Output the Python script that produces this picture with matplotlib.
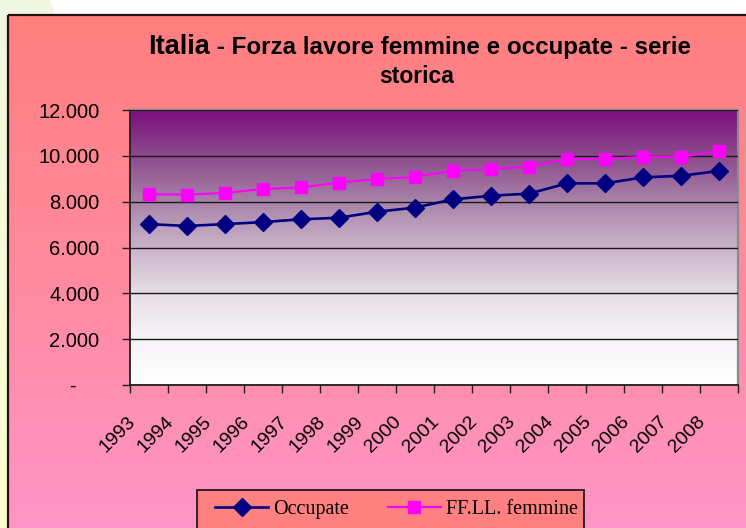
import numpy as np
import matplotlib
matplotlib.use("Agg")
import matplotlib.pyplot as plt
from matplotlib.colors import LinearSegmentedColormap
from matplotlib.patches import Rectangle, Polygon
from matplotlib.transforms import ScaledTranslation
from matplotlib.lines import Line2D

# ---- data ----
years = ["1993", "1994", "1995", "1996", "1997", "1998", "1999", "2000",
         "2001", "2002", "2003", "2004", "2005", "2006", "2007", "2008"]
occupate = [7020, 6940, 7020, 7110, 7230, 7300, 7560, 7740,
            8100, 8260, 8350, 8800, 8800, 9060, 9130, 9340]
ffll_femmine = [8320, 8310, 8380, 8550, 8620, 8830, 8990, 9080,
                9350, 9420, 9530, 9860, 9860, 9950, 9950, 10210]
yticks = [0, 2000, 4000, 6000, 8000, 10000, 12000]
title_a = "Italia"
title_b = " - Forza lavore femmine e occupate - serie"
title_c = "storica"
series_names = ["Occupate", "FF.LL. femmine"]

W, H = 746, 528
DPI = 100
fig = plt.figure(figsize=(W / DPI, H / DPI), dpi=DPI)
fig.patch.set_facecolor("white")

# ---- background axes (pixel coords, y downward) ----
bg = fig.add_axes([0, 0, 1, 1], zorder=-10)
bg.set_xlim(0, W)
bg.set_ylim(H, 0)
bg.axis("off")
left_cmap = LinearSegmentedColormap.from_list("l", ["#EEF7E0", "#FBFCD8", "#FFFFD0"])
bg.imshow(np.linspace(0, 1, 256).reshape(-1, 1), cmap=left_cmap, aspect="auto",
          extent=(0, 9, H, 0), zorder=0)
bg.add_patch(Polygon([(0, 0), (50, 0), (56, 16), (0, 16)], closed=True,
                     facecolor="#EFF7E2", edgecolor="none", zorder=0))
frame_cmap = LinearSegmentedColormap.from_list("f", ["#FF7F7F", "#FF8A9E", "#FF95C8"])
bg.imshow(np.linspace(0, 1, 256).reshape(-1, 1), cmap=frame_cmap, aspect="auto",
          extent=(8, W, H, 15), zorder=1)
bg.add_patch(Rectangle((8, 15), W, H, facecolor="none", edgecolor="#201010",
                       linewidth=1.6, zorder=2))
# legend box
bg.add_patch(Rectangle((197, 490), 584 - 197, 60, facecolor="#FF8080",
                       edgecolor="#101010", linewidth=1.2, zorder=3))

# ---- plot area ----
L, T, R, B = 130, 110, 738, 385
ax = fig.add_axes([L / W, 1 - B / H, (R - L) / W, (B - T) / H])
ax.set_facecolor("none")
plot_cmap = LinearSegmentedColormap.from_list(
    "p", [(0.0, "#FFFFFF"), (0.17, "#F6F3F6"), (0.33, "#E7DEE7"),
          (0.5, "#CAB4CA"), (0.67, "#A882A8"), (0.83, "#8C4C8C"), (1.0, "#7D0D7D")])
ax.imshow(np.linspace(1, 0, 256).reshape(-1, 1), cmap=plot_cmap, aspect="auto",
          extent=(0, 1, 0, 1), transform=ax.transAxes, zorder=0)

x = np.arange(len(years))
ax.plot(x, occupate, color="#000080", lw=1.9, marker="D", ms=9,
        markerfacecolor="#000080", markeredgecolor="#000080", zorder=4,
        label=series_names[0])
ax.plot(x, ffll_femmine, color="#FF00FF", lw=1.5, marker="s", ms=8,
        markerfacecolor="#FF00FF", markeredgecolor="#FF00FF", zorder=3,
        label=series_names[1])

ax.set_xlim(-0.5, len(years) - 0.5)
ax.set_ylim(0, 12000)
ax.set_yticks(yticks)
ax.set_yticklabels(["-    " if v == 0 else f"{v:,}".replace(",", ".") for v in yticks],
                   fontfamily="Liberation Sans", fontsize=14.5)
ax.grid(axis="y", color="#1A1A1A", lw=1.0, zorder=1)
ax.set_axisbelow(False)
for gl in ax.get_ygridlines():
    gl.set_zorder(1)

ax.set_xticks(np.arange(-0.5, len(years), 1.0))
ax.set_xticklabels([])
ax.set_xticks(x, minor=True)
ax.set_xticklabels(years, minor=True, rotation=45, ha="right", va="center",
                   rotation_mode="anchor", fontfamily="Liberation Sans", fontsize=14)
ax.tick_params(axis="x", which="major", length=6, width=1, color="#202020", direction="out")
ax.tick_params(axis="x", which="minor", length=0, pad=24.5)
ax.tick_params(axis="y", length=6, width=1, color="#202020", direction="out", pad=16)
off = ScaledTranslation(-16 / DPI, 0, fig.dpi_scale_trans)
for lab in ax.get_xticklabels(minor=True):
    lab.set_transform(lab.get_transform() + off)

for s in ["left", "bottom"]:
    ax.spines[s].set_color("#202020")
    ax.spines[s].set_linewidth(1.3)
for s in ["top", "right"]:
    ax.spines[s].set_color("#8A8A8A")
    ax.spines[s].set_linewidth(1.6)

# ---- title ----
cx = 420
y1 = 1 - 54 / H
ta = fig.text(0, y1, title_a, fontfamily="Liberation Sans", fontweight="bold",
              fontsize=19.5, va="baseline", ha="left")
tb = fig.text(0, y1, title_b, fontfamily="Liberation Sans", fontweight="bold",
              fontsize=17.4, va="baseline", ha="left")
fig.canvas.draw()
r = fig.canvas.get_renderer()
wa = ta.get_window_extent(r).width
wb = tb.get_window_extent(r).width
x0 = cx - (wa + wb) / 2
ta.set_x(x0 / W)
tb.set_x((x0 + wa) / W)
fig.text(417 / W, 1 - 83 / H, title_c, fontfamily="Liberation Sans", fontweight="bold",
         fontsize=16.5, va="baseline", ha="center")

# ---- legend ----
handles = [
    Line2D([], [], color="#000080", lw=1.9, marker="D", ms=9),
    Line2D([], [], color="#FF00FF", lw=1.5, marker="s", ms=8),
]
leg = fig.legend(handles, series_names, loc="center left",
                 bbox_to_anchor=(215 / W, 1 - 509 / H), ncol=2,
                 prop={"family": "Liberation Serif", "size": 14.5},
                 frameon=False, borderaxespad=0, borderpad=0,
                 handlelength=2.65, handletextpad=0.25, columnspacing=1.9)
leg.set_zorder(5)

fig.savefig("out.png", dpi=DPI)
